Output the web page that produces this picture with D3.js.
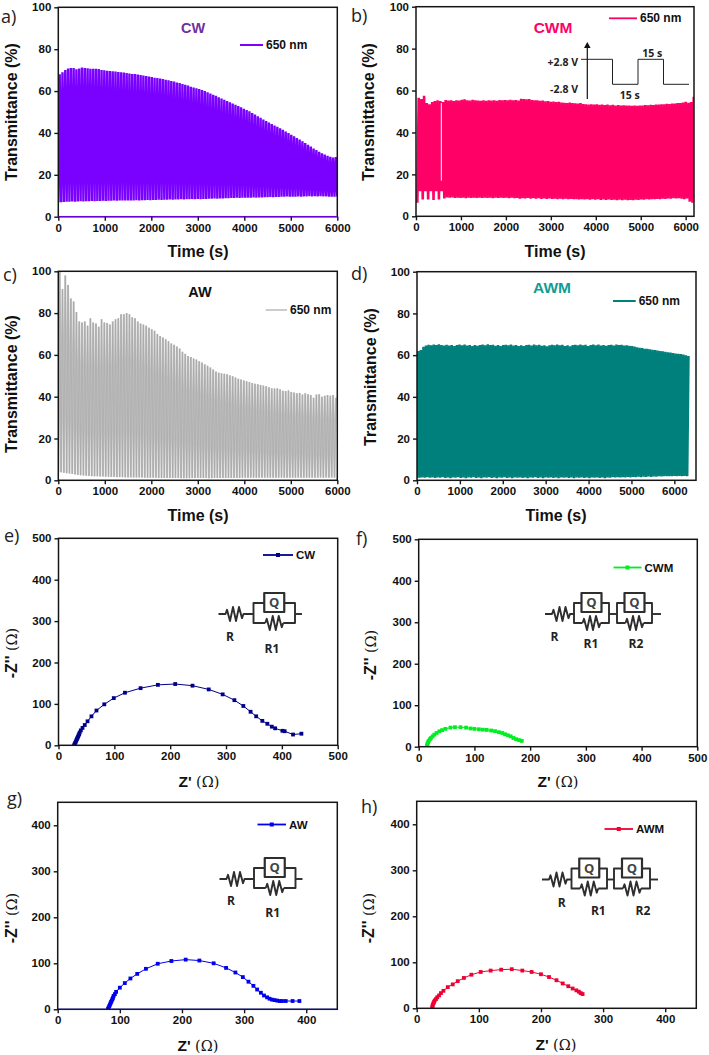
<!DOCTYPE html>
<html><head><meta charset="utf-8">
<script src="https://cdn.jsdelivr.net/npm/d3@7"></script>
<style>html,body{margin:0;padding:0;background:#fff}svg{display:block}text{font-family:"Liberation Sans",Arial,sans-serif}</style>
</head><body><svg id="c" width="709" height="1055"></svg>
<script>
// ---------- transmittance cycles: peak and trough read per cycle ----------
const cycleStep = 60;
const peaksCW = [68,69,70,70.8,71,71,70.4,70.8,71.2,71,70.9,70.7,70.6,70.6,70.5,70.1,69.9,69.7,69.6,69.5,69.3,69.1,69,68.8,68.6,68.4,68.2,68.1,67.9,67.7,67.4,67.2,67,66.7,66.4,66.2,66,65.7,65.4,65.1,64.8,64.5,64.1,63.8,63.4,63,62.6,62.1,61.7,61.3,61,60.5,60,59.4,58.8,58.2,57.7,57,56.4,55.8,55.2,54.6,54,53.4,52.8,52.2,51.6,51,50.3,49.5,48.8,48,47.2,46.4,45.7,45,44.3,43.6,42.9,42.2,41.5,40.7,39.9,39.1,38.4,37.6,36.8,36,35.2,34.4,33.5,32.6,31.8,31,30.3,29.7,29.1,28.6,28.3,28.5,29.2];
const troughsCW = [6.8,6.9,7,7.2,7.1,7.3,7.2,7.3,7.4,7.3,7.4,7.4,7.5,7.4,7.5,7.5,7.6,7.5,7.6,7.6,7.7,7.6,7.7,7.7,7.8,7.7,7.8,7.8,7.9,7.8,7.9,7.9,8,7.9,8,8,8.1,8,8.1,8.1,8.2,8.1,8.2,8.2,8.3,8.2,8.3,8.3,8.4,8.4,8.5,8.4,8.5,8.5,8.6,8.6,8.7,8.6,8.7,8.7,8.8,8.8,8.9,8.9,9,8.9,9,9,9.1,9.1,9.2,9.1,9.2,9.2,9.3,9.3,9.4,9.3,9.4,9.4,9.5,9.5,9.6,9.5,9.6,9.6,9.7,9.6,9.7,9.7,9.8,9.7,9.8,9.7,9.8,9.7,9.7,9.6,9.6,9.6,9.7];
const peaksCWM = [56.5,56,57.5,54,53.5,54.5,55,55.3,55,54.5,55.5,55.2,55.3,55,55.4,55.2,55.6,55.8,55.4,55.2,55.6,55.3,55.2,55.1,55.3,55.1,55.4,55.2,55.4,55.1,55.5,55.3,55.5,55.4,55.6,55.3,55.5,55.2,56.1,56,55.8,55.9,55.5,55.3,55.4,55.1,55.2,54.9,55,54.7,54.8,54.5,54.6,54.3,54.2,54,54.3,54,53.9,53.8,54,53.6,53.5,53.3,53.5,53.3,53.4,53.2,53.3,53.1,53.3,53,53.2,52.9,53.1,52.8,53,52.8,52.9,52.7,52.9,52.7,52.9,52.9,53.1,53,53.2,53.1,53.3,53.3,53.5,53.5,53.7,53.6,53.8,53.8,54,54,54.3,54.6,54.2,54.5,57,57.5,57.5];
const troughsCWM = [6.5,12,8,12,8,12,7.8,12,8,12,8.5,9,8.8,9,8.7,8.9,8.7,8.9,8.6,8.8,8.7,8.9,8.7,8.9,8.7,8.8,8.7,8.9,8.6,8.8,8.7,8.9,8.7,8.8,8.6,8.8,8.6,8.7,8.4,8.6,8.5,8.7,8.4,8.6,8.4,8.6,8.3,8.5,8.3,8.5,8.3,8.4,8.2,8.4,8.2,8.4,8.1,8.3,8.1,8.2,8,8.2,8,8.1,7.9,8.1,7.9,8.1,7.8,8,7.8,8,7.8,7.9,7.7,7.9,7.7,7.9,7.7,7.8,7.7,7.9,7.8,8,7.9,8.1,8,8.2,8.1,8.3,8.2,8.4,8.3,8.5,8.4,8.6,8.5,8.6,8.4,8.2,8.5,7,6.5,9,12];
const peaksAW = [100,91.5,98,93.5,87,85.5,80.5,76,75.5,76,74,77.5,75.5,75,73.5,77,75.5,75.3,74.5,76,77,77.5,79.5,79.5,80,79.5,78,77.5,76,75,74.5,74,73,72.3,71.5,70,69,68.3,67.5,66.5,65.5,64.8,64,63,61.5,60.5,59.5,59,58.3,57.8,57,56.3,55.5,54.8,54,53,52,51.5,51.2,51,50.7,50.2,49.8,49.2,48.6,48.2,47.8,47.4,47,46.6,46.2,46,45.6,45.3,45,44.5,44,43.9,44,43.5,42.8,42.7,43,42.3,42,41.6,41.8,41,41.6,41.2,40.8,39.5,41,41.2,40,40.5,40.8,40.5,40.8,39.5];
const troughsAW = [4,3.8,3.6,3.4,3.2,3,2.8,2.6,2.4,2.3,2.2,2.1,2,1.9,1.9,1.8,1.8,1.7,1.7,1.6,1.6,1.5,1.5,1.5,1.4,1.4,1.4,1.3,1.3,1.3,1.3,1.2,1.2,1.2,1.2,1.2,1.1,1.1,1.1,1.1,1.1,1.1,1.1,1.1,1,1,1,1,1.1,1.1,1.1,1.1,1.1,1.1,1,1,1.1,1.1,1.1,1.1,1.1,1.1,1.1,1.1,1.1,1.1,1.2,1.2,1.1,1.2,1.2,1.2,1.2,1.2,1.2,1.2,1.2,1.2,1.2,1.2,1.2,1.2,1.2,1.2,1.2,1.2,1.2,1.2,1.2,1.2,1.2,1.2,1.2,1.2,1.3,1.2,1.3,1.2,1.3,1.2];
const peaksAWM = [62,62.5,64,64.6,65,64.7,65.1,64.8,65.2,64.9,64.6,65,64.6,64.9,64.4,64.8,65.1,64.7,65.1,64.6,64.9,64.4,64.8,64.5,64.9,65.1,64.7,65.2,64.8,65,64.5,64.8,64.4,64.9,65,64.7,65.1,64.6,64.9,64.4,64.7,64.4,64.8,65,64.6,65.1,64.7,65,64.5,64.7,64.3,64.7,65,64.7,65.1,64.7,65,64.4,64.7,64.3,64.8,65,64.7,65.1,64.7,65,64.4,64.8,65.1,64.7,65.1,64.6,64.9,64.5,64.9,65,64.6,65.1,64.8,65,64.6,64.7,64.5,64.4,64.1,63.8,63.5,63.4,63.1,63,62.8,62.6,62.5,62.2,62,61.8,61.6,61.4,61.2,61,60.8,60.7,60.5,60.3,60,59.6];
const troughsAWM = [1,1.2,1.4,1.2,1.5,1.2,1.4,1.1,1.4,1.2,1.5,1.1,1.3,1,1.4,1.2,1.5,1.1,1.3,1,1.4,1.2,1.5,1.1,1.3,1,1.4,1.2,1.5,1.1,1.3,1,1.3,1.2,1.5,1.1,1.3,1,1.4,1.2,1.4,1.1,1.3,1,1.4,1.2,1.5,1.1,1.3,1,1.4,1.2,1.4,1.1,1.3,1,1.4,1.2,1.4,1.1,1.3,1,1.3,1.2,1.4,1.1,1.3,1,1.3,1.2,1.4,1.1,1.3,1,1.3,1.2,1.5,1.3,1.5,1.3,1.5,1.4,1.6,1.4,1.6,1.5,1.7,1.5,1.7,1.6,1.8,1.6,1.8,1.7,1.9,1.8,2,1.9,2,1.9,2.1,2,2.1,2,2.1,2];

// ---------- impedance (Nyquist) points ----------
const zReCW = [28,29,30,31,32,33,34,35,36,37,38,40,43,47,52,59,68,82,99,119,147,178,209,240,269,294,315,331,344,354,365,374,382,388,401,405,420,435];
const zImCW = [0,3,6,9,12,15,18,21,24,27,31,36,42,49,58,70,84,99,114,127,138,146,148,144,135,123,109,95,81,70,59,52,45,41,35,34,26,28];
const zReCWM = [15,15.5,16,17,18,20,22,25,28,32,37,42,48,57,65,75,85,93,100,108,115,122,130,137,144,150,155,160,165,170,175,180,185];
const zImCWM = [2,5,8,11,14,18,21,25,29,33,37,40,43,46,47,47,46,44,43,42,41,40.5,39,37.5,35,33,30,27.5,25,21,18,16,14];
const zReAW = [81,82,83,84,85,86,87,88,89,90,92,94,100,108,117,128,142,161,183,206,228,251,271,286,298,307,315,321,327,332,337,341,345,349,353,357,361,367,378,389];
const zImAW = [1,4,7,10,13,16,19,22,25,29,33,38,47,57,67,77,88,99,105,108,106,100,90,80,70,60,51,43,36,30,26,23,21,20,19,18,18,18,18,18];
const zReAWM = [25,25.5,26,27,28,29,31,33,36,39,43,50,58,66,76,88,103,119,136,153,170,185,200,213,225,235,244,251,257,261,264,267];
const zImAWM = [2,5,8,11,14,17,20,24,28,33,38,46,52,59,66,73,79,82,84,85,82,79,74,68,61,54,48,43,39,36,33,31];

// ---------- ticks, inset and labels ----------
const timeTicks = [0,1000,2000,3000,4000,5000,6000];
const transTicks = [0,20,40,60,80,100];
const z500Ticks = [0,100,200,300,400,500];
const z400Ticks = [0,100,200,300,400];
const pulseTimes = [0,1,1,2,2,3,3,4];
const pulseLevels = [1,1,0,0,1,1,0,0];

const svg = d3.select('#c');
const FRAME = '#151515';

function zigzag(x0, x1, y, amp) {
  const n = 6, pts = [[x0, y]];
  for (let i = 0; i < n; i++) pts.push([x0 + (x1 - x0) * (i + 0.5) / n, y + (i % 2 ? amp : -amp) * (i === 0 || i === n - 1 ? 0.6 : 1)]);
  pts.push([x1, y]);
  return pts;
}
const pathGen = d3.line();
function circuit(x0, y, loopXs, xEnd, labels) {
  const g = svg.append('g').attr('fill', 'none').attr('stroke', '#2e2e2e').attr('stroke-width', 1.9).attr('stroke-linejoin','round');
  const rEnd = x0 + 25;
  g.append('path').attr('d', pathGen([[x0, y], [x0 + 7, y]].concat(zigzag(x0 + 7, rEnd, y, 7)).concat([[loopXs[0][0], y]])));
  loopXs.forEach((l, i) => {
    const [a, b] = l, m = (a + b) / 2, top = y - 11, bot = y + 9;
    g.append('path').attr('d', pathGen([[m - 10, top], [a, top], [a, bot], [m - 9, bot]]));
    g.append('path').attr('d', pathGen([[m + 10, top], [b, top], [b, bot], [m + 9, bot]]));
    g.append('path').attr('d', pathGen(zigzag(m - 9, m + 9, bot, 7)));
    g.append('rect').attr('x', m - 10).attr('y', y - 21).attr('width', 20).attr('height', 19).attr('stroke-width', 2.2);
    svg.append('text').attr('x', m).attr('y', y - 7).attr('text-anchor', 'middle').attr('font-size', 13).attr('font-weight', 'bold').attr('fill', '#444').style('font-family', '"Open Sans"').text('Q');
    const next = i < loopXs.length - 1 ? loopXs[i + 1][0] : xEnd;
    g.append('path').attr('d', pathGen([[b, y], [next, y]]));
  });
  labels.forEach(l => svg.append('text').attr('x', l[1]).attr('y', l[2]).attr('text-anchor', 'middle').attr('font-size', 12).attr('font-weight', 'bold').attr('fill', '#222').style('font-family', '"Open Sans"').text(l[0]));
}

function panel(p) {
  const x = d3.scaleLinear().domain(p.xd).range([p.l, p.r]);
  const y = d3.scaleLinear().domain(p.yd).range([p.b, p.t]);
  const clipId = 'clip' + p.tag;
  svg.append('clipPath').attr('id', clipId).append('rect').attr('x', p.l).attr('y', p.t).attr('width', p.r - p.l).attr('height', p.b - p.t);
  const marks = svg.append('g').attr('clip-path', `url(#${clipId})`);

  if (p.peaks) {
    const pts = [];
    p.peaks.forEach((v, i) => {
      const t = p.t0 + i * p.step;
      pts.push([t, p.troughs[i]]);
      pts.push([t + p.step / 2, v]);
    });
    const d = d3.line().x(d => x(d[0])).y(d => y(d[1]))(pts);
    marks.append('path').attr('d', d).attr('fill', 'none').attr('stroke', p.color).attr('stroke-width', p.sw).attr('stroke-linejoin', 'bevel');
    if (p.tip) marks.append('path').attr('d', d).attr('fill', 'none').attr('stroke', p.tip).attr('stroke-width', .5);
    if (p.gap) marks.append('line').attr('x1', x(p.gap[0])).attr('x2', x(p.gap[0])).attr('y1', y(p.gap[1])).attr('y2', y(p.gap[2])).attr('stroke', '#fff').attr('stroke-width', 1);
  } else {
    const pts = p.zr.map((v, i) => [v, p.zi[i]]);
    marks.append('path').attr('d', d3.line().x(d => x(d[0])).y(d => y(d[1]))(pts)).attr('fill', 'none').attr('stroke', p.color).attr('stroke-width', 1);
    marks.selectAll('rect.m').data(pts).join('rect').attr('class', 'm').attr('x', d => x(d[0]) - 1.9).attr('y', d => y(d[1]) - 1.9).attr('width', 3.8).attr('height', 3.8).attr('fill', p.color);
  }

  svg.append('rect').attr('x', p.l).attr('y', p.t).attr('width', p.r - p.l).attr('height', p.b - p.t).attr('fill', 'none').attr('stroke', FRAME).attr('stroke-width', 1.5);
  if (p.base) svg.append('line').attr('x1', p.l).attr('x2', p.r).attr('y1', y(0)).attr('y2', y(0)).attr('stroke', p.color).attr('stroke-width', 1);
  const ax = d3.axisBottom(x).tickValues(p.xt).tickSize(4).tickSizeOuter(0).tickPadding(3).tickFormat(d3.format('d'));
  const ay = d3.axisLeft(y).tickValues(p.yt).tickSize(4).tickSizeOuter(0).tickPadding(3).tickFormat(d3.format('d'));
  [[ax, `translate(0,${p.b})`], [ay, `translate(${p.l},0)`]].forEach(a => {
    const g = svg.append('g').attr('transform', a[1]).call(a[0]);
    g.select('.domain').remove();
    g.selectAll('line').attr('stroke', FRAME).attr('stroke-width', 1.4);
    g.selectAll('text').attr('font-size', 11.5).attr('font-weight', 'bold').attr('fill', '#111').style('font-family', '"Liberation Sans"');
  });

  // titles
  svg.append('text').attr('x', p.xtx).attr('y', p.xty).attr('text-anchor', 'middle').attr('font-size', 16).attr('font-weight', 'bold').attr('fill', '#111')
    .call(s => {
      if (p.peaks) s.text('Time (s)');
      else {
        s.append('tspan').attr('font-size', 15.5).text("Z' ");
        s.append('tspan').attr('font-size', 14.5).attr('font-weight', 'normal').style('font-family', '"DejaVu Serif"').text('(Ω)');
      }
    });
  svg.append('text').attr('transform', `translate(${p.ytx},${p.yty}) rotate(-90)`).attr('text-anchor', 'middle').attr('font-size', 16).attr('font-weight', 'bold').attr('fill', '#111')
    .call(s => {
      if (p.peaks) s.text('Transmittance (%)');
      else {
        s.append('tspan').attr('font-size', 16).text("-Z'' ");
        s.append('tspan').attr('font-size', 14.5).attr('font-weight', 'normal').style('font-family', '"DejaVu Serif"').text('(Ω)');
      }
    });
  // panel letter
  svg.append('text').attr('x', p.lx).attr('y', p.ly).attr('font-size', 18).attr('fill', '#222').style('font-family', '"Open Sans"').text(p.tag + ')');
  // heading
  if (p.head) svg.append('text').attr('x', p.head[0]).attr('y', p.head[1]).attr('text-anchor', 'middle').attr('font-size', p.headSize || 14.5).attr('font-weight', 'bold').attr('fill', p.headColor).text(p.headText);
  // legend
  const lg = p.leg;
  svg.append('line').attr('x1', lg[0]).attr('x2', lg[1]).attr('y1', lg[2]).attr('y2', lg[2]).attr('stroke', p.legColor || p.color).attr('stroke-width', p.legSw || 1.8);
  if (!p.peaks) svg.append('rect').attr('x', (lg[0] + lg[1]) / 2 - 2).attr('y', lg[2] - 2).attr('width', 4).attr('height', 4).attr('fill', p.color);
  svg.append('text').attr('x', lg[1] + 3).attr('y', lg[2] + 4).attr('font-size', p.peaks ? 12 : 11.5).attr('font-weight', 'bold').attr('fill', '#111').text(p.legText);
}

const nmLabel = '650 nm';
panel({tag:'a',l:58.3,r:337.3,t:7.3,b:216.7,xd:[0,6000],yd:[0,100],xt:timeTicks,yt:transTicks,peaks:peaksCW,troughs:troughsCW,t0:0,step:cycleStep,color:'#7a00ff',sw:2.4,base:true,
  xtx:198,xty:257,ytx:17,yty:112,lx:1,ly:23,head:[193,33],headColor:'#7030a0',headText:'CW',leg:[240,263,45],legText:nmLabel,legSw:2});
panel({tag:'b',l:416,r:694,t:6.7,b:216.3,xd:[0,6185],yd:[0,100],xt:timeTicks,yt:transTicks,peaks:peaksCWM,troughs:troughsCWM,t0:30,step:cycleStep,color:'#ff0066',sw:2.6,gap:[563,17,54],
  xtx:555,xty:257,ytx:374,yty:112,lx:351,ly:22,head:[553,33],headColor:'#ff0066',headText:'CWM',headSize:15.5,leg:[609,637,18.3],legText:nmLabel});
panel({tag:'c',l:58.3,r:337.3,t:271.3,b:480.3,xd:[0,6000],yd:[0,100],xt:timeTicks,yt:transTicks,peaks:peaksAW,troughs:troughsAW,t0:0,step:cycleStep,color:'#c2c2c2',sw:2,tip:'#a0a0a0',
  xtx:198,xty:521,ytx:17,yty:384,lx:3,ly:281,head:[200,297],headColor:'#111',headText:'AW',leg:[265.7,287,310],legText:nmLabel,legSw:1,legColor:'#999'});
panel({tag:'d',l:417,r:696,t:271.7,b:480.3,xd:[0,6505],yd:[0,100],xt:timeTicks,yt:transTicks,peaks:peaksAWM,troughs:troughsAWM,t0:0,step:cycleStep,color:'#00807c',sw:2.5,
  xtx:556,xty:521,ytx:376,yty:377,lx:351,ly:280,head:[552,293],headColor:'#129c94',headText:'AWM',headSize:15.5,leg:[613,635.7,301],legText:nmLabel,legSw:2});
panel({tag:'e',l:58.5,r:337.7,t:538.3,b:745.3,xd:[0,500],yd:[0,500],xt:z500Ticks,yt:z500Ticks,zr:zReCW,zi:zImCW,color:'#000088',
  xtx:199,xty:787,ytx:17,yty:653,lx:4,ly:542,leg:[263,293,555],legText:'CW'});
panel({tag:'f',l:418.7,r:697.3,t:539.3,b:746.7,xd:[0,500],yd:[0,500],xt:z500Ticks,yt:z500Ticks,zr:zReCWM,zi:zImCWM,color:'#00ee22',
  xtx:558,xty:787,ytx:376,yty:655,lx:356,ly:545,leg:[613.5,641.5,567.5],legText:'CWM'});
panel({tag:'g',l:57.7,r:337.3,t:802.3,b:1009.3,xd:[0,450],yd:[0,450],xt:z400Ticks,yt:z400Ticks,zr:zReAW,zi:zImAW,color:'#0000ee',base:true,
  xtx:198,xty:1051,ytx:17,yty:918,lx:7,ly:805,leg:[257.5,286,824.5],legText:'AW'});
panel({tag:'h',l:416.7,r:696.3,t:801.3,b:1008.3,xd:[0,450],yd:[0,450],xt:z400Ticks,yt:z400Ticks,zr:zReAWM,zi:zImAWM,color:'#ee0033',
  xtx:556,xty:1050,ytx:374,yty:918,lx:361,ly:813,leg:[604.5,633,829],legText:'AWM'});

circuit(218.5, 614, [[253.5, 295]], 302, [['R', 230, 641], ['R1', 272, 653]]);
circuit(545, 614, [[574, 609], [617, 652]], 661, [['R', 554.5, 640.5], ['R1', 591, 648], ['R2', 636, 648]]);
circuit(219.5, 879, [[254, 295.5]], 302.5, [['R', 231, 905], ['R1', 272.7, 917]]);
circuit(542, 879.5, [[571.5, 607], [614, 650]], 658, [['R', 561.7, 907], ['R1', 598.3, 915], ['R2', 643, 915]]);

// pulse inset of panel b
const px = d3.scaleLinear().domain([0, 4]).range([587, 689]);
const py = d3.scaleLinear().domain([0, 1]).range([84.3, 59.3]);
const pulseSeg = pulseTimes.map((t, i) => [t, pulseLevels[i]]);
svg.append('path').attr('d', pathGen([[581, py(1)]].concat(pulseSeg.map(d => [px(d[0]), py(d[1])]))) ).attr('fill', 'none').attr('stroke', '#222').attr('stroke-width', 1);
svg.append('line').attr('x1', 587.3).attr('x2', 587.3).attr('y1', 99).attr('y2', 46).attr('stroke', '#111').attr('stroke-width', 1.2);
svg.append('path').attr('d', pathGen([[584, 48], [587.3, 42], [590.6, 48]])).attr('fill', '#111');
[['+2.8 V', 578, 66, 'end'], ['-2.8 V', 578, 93, 'end'], ['15 s', 652.3, 57, 'middle'], ['15 s', 629.7, 99, 'middle']].forEach(l =>
  svg.append('text').attr('x', l[1]).attr('y', l[2]).attr('text-anchor', l[3]).attr('font-size', 10.5).attr('font-weight', 'bold').attr('fill', '#222').style('font-family', '"Open Sans"').text(l[0]));
</script></body></html>
